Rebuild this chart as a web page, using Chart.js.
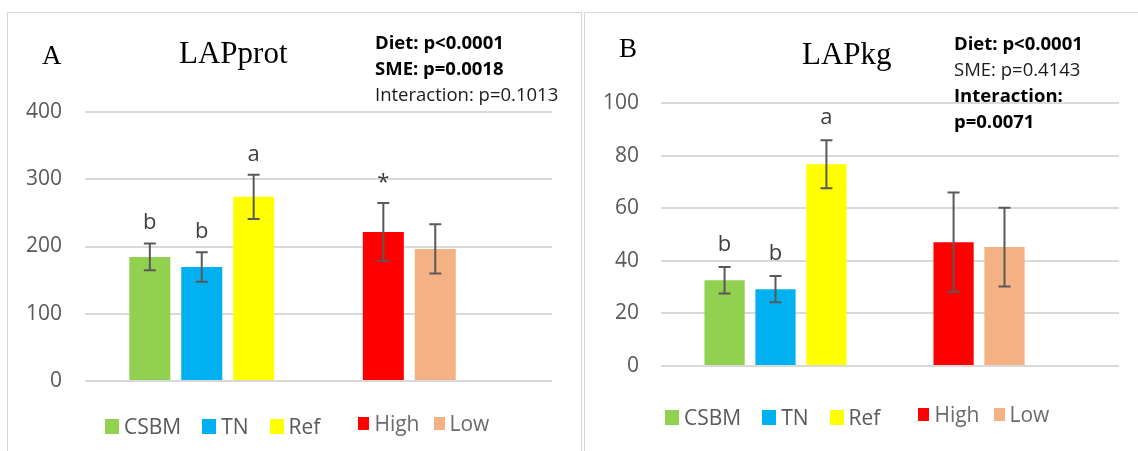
<!DOCTYPE html>
<html lang="en">
<head>
  <meta charset="UTF-8" />
  <title>LAPprot and LAPkg</title>
  <script src="https://cdn.jsdelivr.net/npm/chart.js"></script>
  <style>
    body {
      margin: 0;
      width: 1138px;
      height: 451px;
      overflow: hidden;
      position: relative;
      background: #fff;
      font-family: 'Open Sans', sans-serif;
    }
    .panel { position: absolute; border: 1.5px solid #d6d6d6; box-sizing: border-box; }
    canvas { position: absolute; }
    .serif { position: absolute; font-family: 'Liberation Serif', serif; color: #000; line-height: 1; white-space: nowrap; }
    .stats { position: absolute; font-size: 18.5px; line-height: 26px; color: #1a1a1a; white-space: nowrap; }
    .stats b { color: #000; }
    .legend { position: absolute; display: flex; align-items: center; height: 30px; font-size: 21px; color: #595959; white-space: nowrap; }
    .legend .item { display: flex; align-items: center; }
    .legend .box { display: inline-block; width: 14px; height: 15px; margin-right: 5px; }
    .legend .sme { position: relative; top: -3px; color: #6b6b6b; }
    .legend .sme .box { width: 11px; height: 13px; }
  </style>
</head>
<body>

  <!-- panel frames -->
  <div class="panel" style="left:7px; top:12px; width:575px; height:460px;"></div>
  <div class="panel" style="left:584px; top:12px; width:580px; height:460px;"></div>

  <!-- Panel A -->
  <canvas id="protChart" width="573" height="438" style="left:8px; top:13px;"></canvas>
  <div class="serif" style="left:42px; top:42px; font-size:27px;">A</div>
  <div class="serif" style="left:179px; top:37px; font-size:31px;">LAPprot</div>
  <div class="stats" style="left:375px; top:29px;">
    <b>Diet: p&lt;0.0001</b><br>
    <b>SME: p=0.0018</b><br>
    Interaction: p=0.1013
  </div>
  <div class="legend" id="legendA" style="left:105px; top:411px;"></div>

  <!-- Panel B -->
  <canvas id="kgChart" width="552" height="438" style="left:586px; top:13px;"></canvas>
  <div class="serif" style="left:619px; top:35px; font-size:27px;">B</div>
  <div class="serif" style="left:802px; top:38px; font-size:31px;">LAPkg</div>
  <div class="stats" style="left:954px; top:30px;">
    <b>Diet: p&lt;0.0001</b><br>
    SME: p=0.4143<br>
    <b>Interaction:</b><br>
    <b>p=0.0071</b>
  </div>
  <div class="legend" id="legendB" style="left:665px; top:402px;"></div>

  <script>
    const dietLevels = ['CSBM', 'TN', 'Ref'];
    const smeLevels = ['High', 'Low'];
    const dietColors = ['#92d050', '#00b0f0', '#ffff00'];
    const smeColors = ['#ff0000', '#f4b183'];

    // A - LAPprot
    const protDiet = [184.5, 169.6, 273.8];
    const protDietErr = [20, 22, 33];
    const protDietLetters = ['b', 'b', 'a'];
    const protSme = [221.7, 196.4];
    const protSmeErr = [43, 36.5];
    const protSmeLetters = ['*', ''];
    const protTicks = [0, 100, 200, 300, 400];

    // B - LAPkg
    const kgDiet = [32.6, 29.2, 76.7];
    const kgDietErr = [5, 5, 9.1];
    const kgDietLetters = ['b', 'b', 'a'];
    const kgSme = [47.1, 45.2];
    const kgSmeErr = [18.9, 15];
    const kgSmeLetters = ['', ''];
    const kgTicks = [0, 20, 40, 60, 80, 100];

    // two clusters on the x axis: diet levels, then SME levels
    function buildDatasets(diet, dietErr, dietLet, sme, smeErr, smeLet) {
      return dietLevels.map((name, k) => ({
        label: name,
        data: [diet[k], k < sme.length ? sme[k] : null],
        backgroundColor: [dietColors[k], smeColors[k] || 'rgba(0,0,0,0)'],
        errors: [dietErr[k], k < smeErr.length ? smeErr[k] : 0],
        marks: [dietLet[k], smeLet[k] || ''],
        borderWidth: 0,
        categoryPercentage: 0.667,
        barPercentage: 0.79
      }));
    }

    const errorBars = {
      id: 'errorBars',
      afterDatasetsDraw(chart, args, opts) {
        const ctx = chart.ctx;
        const y = chart.scales.y;
        ctx.save();
        chart.data.datasets.forEach((ds, i) => {
          chart.getDatasetMeta(i).data.forEach((bar, j) => {
            const v = ds.data[j];
            if (v == null) return;
            const top = y.getPixelForValue(v + ds.errors[j]);
            const bot = y.getPixelForValue(v - ds.errors[j]);
            ctx.strokeStyle = '#595959';
            ctx.lineWidth = 2;
            ctx.beginPath();
            ctx.moveTo(bar.x, top); ctx.lineTo(bar.x, bot);
            ctx.moveTo(bar.x - 6, top); ctx.lineTo(bar.x + 6, top);
            ctx.moveTo(bar.x - 6, bot); ctx.lineTo(bar.x + 6, bot);
            ctx.stroke();
            if (ds.marks[j]) {
              ctx.fillStyle = '#404040';
              ctx.font = '22px "Open Sans"';
              ctx.textAlign = 'center';
              ctx.textBaseline = 'alphabetic';
              ctx.fillText(ds.marks[j], bar.x, top - opts.gap);
            }
          });
        });
        ctx.restore();
      }
    };

    function makeChart(id, datasets, ticks, axisWidth, tickPad, padding, gap) {
      return new Chart(document.getElementById(id), {
        type: 'bar',
        data: { labels: ['Diet', 'SME'], datasets: datasets },
        options: {
          responsive: false,
          animation: false,
          layout: { padding: padding },
          plugins: {
            legend: { display: false },
            tooltip: { enabled: false },
            errorBars: { gap: gap }
          },
          scales: {
            x: { display: false },
            y: {
              min: ticks[0],
              max: ticks[ticks.length - 1],
              afterBuildTicks: s => { s.ticks = ticks.map(v => ({ value: v })); },
              afterFit: s => { s.width = axisWidth; },
              border: { display: false },
              grid: { color: '#d9d9d9', lineWidth: 2, drawTicks: false },
              ticks: { color: '#595959', padding: tickPad, font: { family: 'Open Sans', size: 21 } }
            }
          }
        },
        plugins: [errorBars]
      });
    }

    function buildLegend(id) {
      const el = document.getElementById(id);
      const items = dietLevels.map((t, i) => ({ t, c: dietColors[i], sme: false }))
        .concat(smeLevels.map((t, i) => ({ t, c: smeColors[i], sme: true })));
      items.forEach((it, i) => {
        const d = document.createElement('span');
        d.className = 'item' + (it.sme ? ' sme' : '');
        let gap = 21;
        if (i === 2) gap = 38;
        if (i === 3) gap = 14;
        if (i === 4) gap = 0;
        d.style.marginRight = gap + 'px';
        d.innerHTML = '<span class="box" style="background:' + it.c + '"></span>' + it.t;
        el.appendChild(d);
      });
    }

    makeChart('protChart',
      buildDatasets(protDiet, protDietErr, protDietLetters, protSme, protSmeErr, protSmeLetters),
      protTicks, 77, 23, { top: 99, right: 29, bottom: 70, left: 0 }, 14);

    makeChart('kgChart',
      buildDatasets(kgDiet, kgDietErr, kgDietLetters, kgSme, kgSmeErr, kgSmeLetters),
      kgTicks, 75, 22, { top: 90, right: 19, bottom: 85, left: 0 }, 16);

    buildLegend('legendA');
    buildLegend('legendB');
  </script>
</body>
</html>
